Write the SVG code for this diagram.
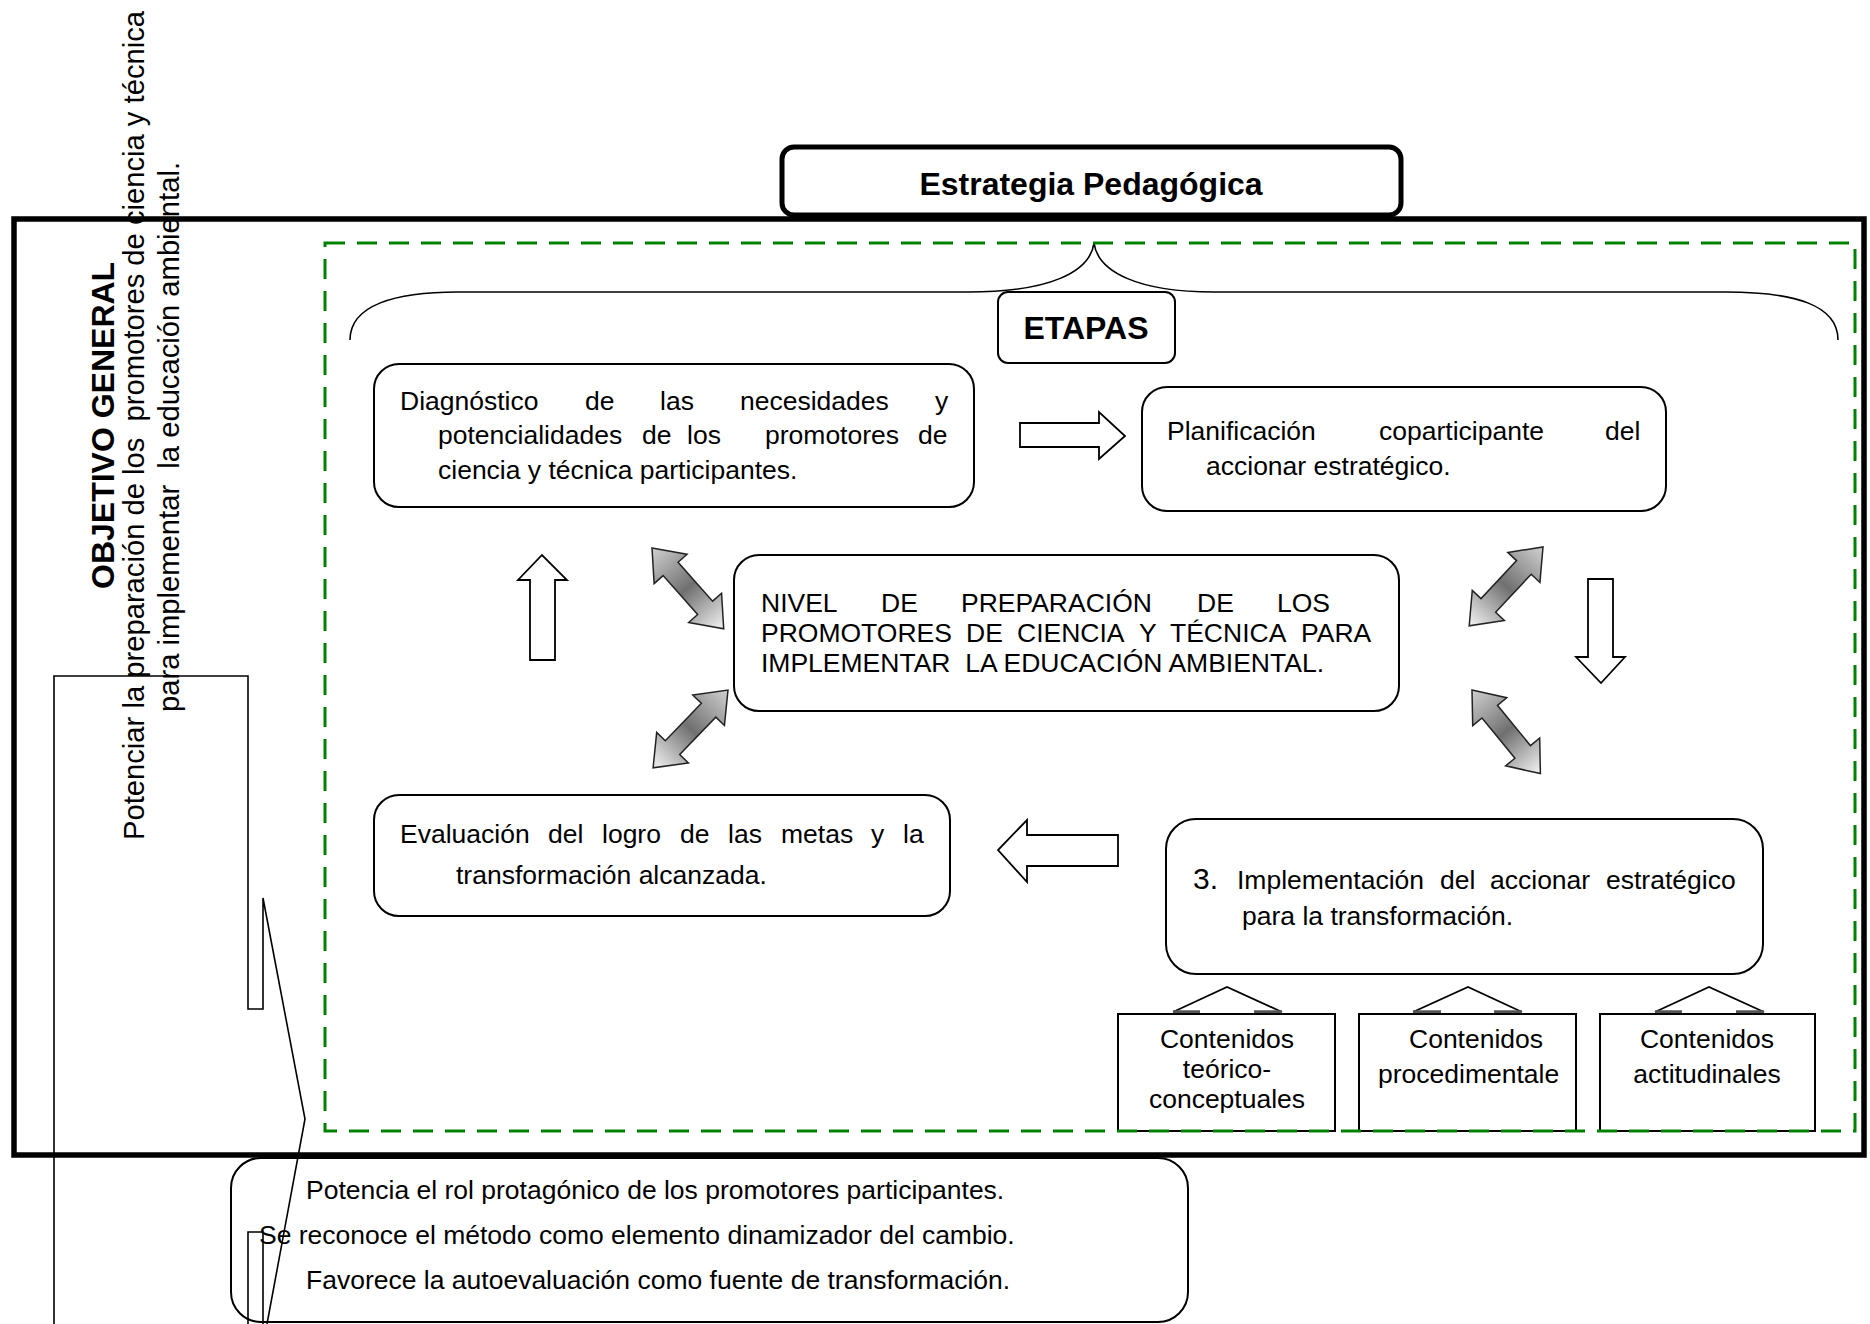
<svg xmlns="http://www.w3.org/2000/svg" width="1870" height="1324" viewBox="0 0 1870 1324">
<defs>
<style>
text{font-family:"Liberation Sans",Arial,sans-serif;fill:#000}
.t{font-size:26.5px}
.b{font-weight:bold;font-size:32px}
.v{font-size:29.2px}
.box{fill:#fff;stroke:#000;stroke-width:2}
.ha{fill:#fff;stroke:#000;stroke-width:1.8}
.da{fill:url(#g);stroke:#222;stroke-width:1.5}
.ln{fill:none;stroke:#000;stroke-width:1.6}
.ch{fill:none;stroke:#000;stroke-width:1.8}
.tk{stroke:#555;stroke-width:3.5}
.c{text-anchor:middle}
</style>
<linearGradient id="g" x1="0" y1="0" x2="1" y2="0">
<stop offset="0" stop-color="#d0d0d0"/>
<stop offset="0.5" stop-color="#707070"/>
<stop offset="1" stop-color="#f4f4f4"/>
</linearGradient>
<polygon id="dbl" points="0,0 28,-22 28,-10 80,-10 80,-22 108,0 80,22 80,10 28,10 28,22"/>
</defs>
<rect width="1870" height="1324" fill="#fff"/>

<g id="objetivo">
<text class="b" transform="translate(114,589) rotate(-90)">OBJETIVO GENERAL</text>
<text class="v" transform="translate(144,840) rotate(-90)">Potenciar la preparación de los&#160; promotores de ciencia y técnica</text>
<text class="v" transform="translate(179,712) rotate(-90)">para implementar&#160; la educación ambiental.</text>
</g>

<g id="frame">
<rect x="14" y="219" width="1850" height="936" fill="none" stroke="#000" stroke-width="5.5"/>
</g>

<g id="estrategia">
<rect x="782" y="147" width="619" height="68" rx="12" fill="#fff" stroke="#000" stroke-width="5"/>
<text class="b c" x="1091" y="195">Estrategia Pedagógica</text>
</g>

<g id="llave">
<path class="ln" d="M350 340 C350 305 395 292 458 292 L968 292 C1050 292 1090 272 1094 243 C1098 272 1138 292 1214 292 L1725 292 C1795 292 1838 305 1838 340" stroke-width="2"/>
</g>

<g id="etapas">
<rect class="box" x="998" y="292" width="177" height="71" rx="10"/>
<text class="b c" x="1086" y="339">ETAPAS</text>
</g>

<g id="diagnostico">
<rect class="box" x="374" y="364" width="600" height="143" rx="25"/>
<text class="t" y="410"><tspan x="400">Diagnóstico</tspan><tspan x="585">de</tspan><tspan x="660">las</tspan><tspan x="740">necesidades</tspan><tspan x="935">y</tspan></text>
<text class="t" y="444"><tspan x="438">potencialidades</tspan><tspan x="642">de</tspan><tspan x="687">los</tspan><tspan x="765">promotores</tspan><tspan x="918">de</tspan></text>
<text class="t" x="438" y="479">ciencia y técnica participantes.</text>
</g>

<g id="planificacion">
<rect class="box" x="1142" y="387" width="524" height="124" rx="25"/>
<text class="t" y="440"><tspan x="1167">Planificación</tspan><tspan x="1379">coparticipante</tspan><tspan x="1605">del</tspan></text>
<text class="t" x="1206" y="475">accionar estratégico.</text>
</g>

<g id="nivel">
<rect class="box" x="734" y="555" width="665" height="156" rx="25"/>
<text class="t" y="612"><tspan x="761">NIVEL</tspan><tspan x="881">DE</tspan><tspan x="961">PREPARACIÓN</tspan><tspan x="1197">DE</tspan><tspan x="1277">LOS</tspan></text>
<text class="t" y="642"><tspan x="761">PROMOTORES</tspan><tspan x="966">DE</tspan><tspan x="1017">CIENCIA</tspan><tspan x="1139">Y</tspan><tspan x="1170">TÉCNICA</tspan><tspan x="1301">PARA</tspan></text>
<text class="t" x="761" y="672">IMPLEMENTAR&#160; LA EDUCACIÓN AMBIENTAL.</text>
</g>

<g id="evaluacion">
<rect class="box" x="374" y="795" width="576" height="121" rx="25"/>
<text class="t" y="843"><tspan x="400">Evaluación</tspan><tspan x="548">del</tspan><tspan x="602">logro</tspan><tspan x="680">de</tspan><tspan x="728">las</tspan><tspan x="781">metas</tspan><tspan x="871">y</tspan><tspan x="903">la</tspan></text>
<text class="t" x="456" y="884">transformación alcanzada.</text>
</g>

<g id="implementacion">
<rect class="box" x="1166" y="819" width="597" height="155" rx="30"/>
<text x="1193" y="889" font-size="30">3.</text>
<text class="t" y="889"><tspan x="1237">Implementación</tspan><tspan x="1440">del</tspan><tspan x="1490">accionar</tspan><tspan x="1606">estratégico</tspan></text>
<text class="t" x="1242" y="925">para la transformación.</text>
</g>

<g id="conectores">
<polygon class="ha" points="1020,423 1099,423 1099,412 1125,436 1099,459 1099,447 1020,447"/>
<polygon class="ha" points="530,660 530,580 518,580 542,555 567,580 555,580 555,660"/>
<polygon class="ha" points="1588,579 1613,579 1613,657 1625,657 1601,683 1576,657 1588,657"/>
<polygon class="ha" points="1118,835 1027,835 1027,820 998,850 1027,882 1027,866 1118,866"/>
<use href="#dbl" class="da" transform="translate(652,548) rotate(48.4)"/>
<use href="#dbl" class="da" transform="translate(728,690) rotate(133.9)"/>
<use href="#dbl" class="da" transform="translate(1543,547) rotate(133.1)"/>
<use href="#dbl" class="da" transform="translate(1472,690) rotate(50.7)"/>
<polyline class="ch" points="1173,1012 1227,987 1282,1012"/>
<line class="tk" x1="1173" y1="1012" x2="1200" y2="1012"/>
<line class="tk" x1="1254" y1="1012" x2="1282" y2="1012"/>
<polyline class="ch" points="1413,1012 1468,987 1522,1012"/>
<line class="tk" x1="1413" y1="1012" x2="1441" y2="1012"/>
<line class="tk" x1="1494" y1="1012" x2="1522" y2="1012"/>
<polyline class="ch" points="1655,1012 1709,987 1764,1012"/>
<line class="tk" x1="1655" y1="1012" x2="1682" y2="1012"/>
<line class="tk" x1="1736" y1="1012" x2="1764" y2="1012"/>
</g>

<g id="contenidos1">
<rect class="box" x="1118" y="1014" width="217" height="117"/>
<text class="t c" x="1227" y="1048">Contenidos</text>
<text class="t c" x="1227" y="1078">teórico-</text>
<text class="t c" x="1227" y="1108">conceptuales</text>
</g>
<g id="contenidos2">
<rect class="box" x="1359" y="1014" width="217" height="117"/>
<text class="t" x="1409" y="1048">Contenidos</text>
<text class="t" x="1378" y="1083">procedimentale</text>
</g>
<g id="contenidos3">
<rect class="box" x="1600" y="1014" width="215" height="117"/>
<text class="t c" x="1707" y="1048">Contenidos</text>
<text class="t c" x="1707" y="1083">actitudinales</text>
</g>

<g id="marco-etapas">
<rect x="325" y="243" width="1530" height="888" fill="none" stroke="#008000" stroke-width="3" stroke-dasharray="20 12"/>
</g>

<g id="principios">
<rect class="box" x="231" y="1158" width="957" height="164" rx="30"/>
<text class="t" x="306" y="1199">Potencia el rol protagónico de los promotores participantes.</text>
<text class="t" x="259" y="1244">Se reconoce el método como elemento dinamizador del cambio.</text>
<text class="t" x="306" y="1289">Favorece la autoevaluación como fuente de transformación.</text>
</g>

<g id="trazos">
<path class="ln" d="M54 1324 V676 H248 V1009 H263 V898 L305 1119 L267 1324"/>
<path class="ln" d="M248 1324 V1232 H263 V1324"/>
</g>
</svg>
